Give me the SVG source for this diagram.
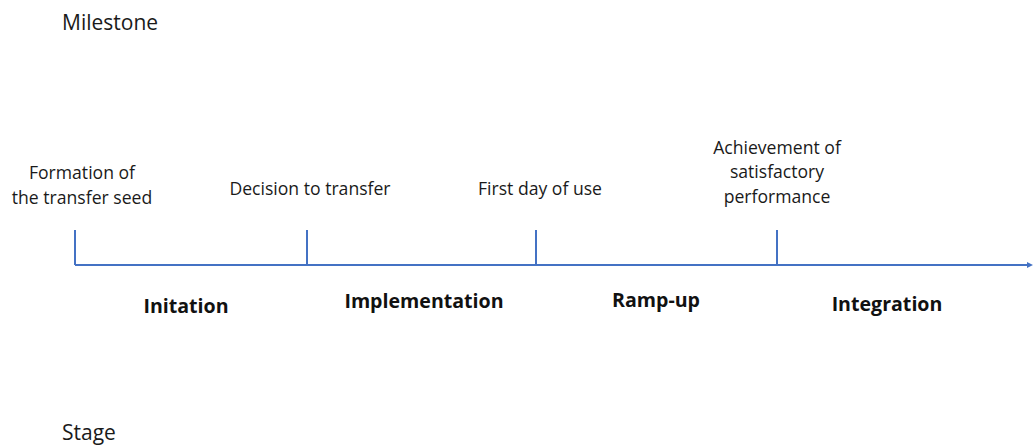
<svg xmlns="http://www.w3.org/2000/svg" width="1033" height="446" viewBox="0 0 1033 446">
  <style>
    .lbl { font-family: "Open Sans", "Noto Sans", "DejaVu Sans", sans-serif; font-size: 17.6px; fill: #1a1a1a; }
    .head { font-family: "Open Sans", "Noto Sans", "DejaVu Sans", sans-serif; font-size: 21px; fill: #1a1a1a; }
    .stage { font-family: "Open Sans", "Noto Sans", "DejaVu Sans", sans-serif; font-size: 19.6px; font-weight: bold; fill: #111; text-anchor: middle; }
    .mid { text-anchor: middle; }
    .axis { stroke: #4472C4; stroke-width: 2; fill: none; }
  </style>
  <defs>
    <marker id="arrow" markerWidth="6" markerHeight="6" refX="3" refY="3" orient="auto" markerUnits="userSpaceOnUse">
      <path d="M0,0 L6,3 L0,6 Z" fill="#4472C4"/>
    </marker>
  </defs>
  <rect width="1033" height="446" fill="#ffffff"/>

  <text class="head" x="62" y="30">Milestone</text>
  <text class="head" x="62" y="440">Stage</text>

  <!-- timeline axis and milestone ticks -->
  <g id="connectors">
    <path class="axis" d="M75,265 L1030,265" marker-end="url(#arrow)"/>
    <path class="axis" d="M75,230 V265"/>
    <path class="axis" d="M307,230 V265"/>
    <path class="axis" d="M536,230 V265"/>
    <path class="axis" d="M777,230 V265"/>
  </g>

  <!-- milestones -->
  <g id="m-seed">
    <text class="lbl mid" x="82" y="179">Formation of</text>
    <text class="lbl mid" x="82" y="204">the transfer seed</text>
  </g>
  <g id="m-decision">
    <text class="lbl mid" x="310" y="195">Decision to transfer</text>
  </g>
  <g id="m-firstday">
    <text class="lbl mid" x="540" y="195">First day of use</text>
  </g>
  <g id="m-performance">
    <text class="lbl mid" x="777" y="154">Achievement of</text>
    <text class="lbl mid" x="777" y="178">satisfactory</text>
    <text class="lbl mid" x="777" y="203">performance</text>
  </g>

  <!-- stages -->
  <g id="s-initation"><text class="stage" x="186" y="313">Initation</text></g>
  <g id="s-implementation"><text class="stage" x="424" y="308">Implementation</text></g>
  <g id="s-rampup"><text class="stage" x="656" y="307">Ramp-up</text></g>
  <g id="s-integration"><text class="stage" x="887" y="311">Integration</text></g>
</svg>
